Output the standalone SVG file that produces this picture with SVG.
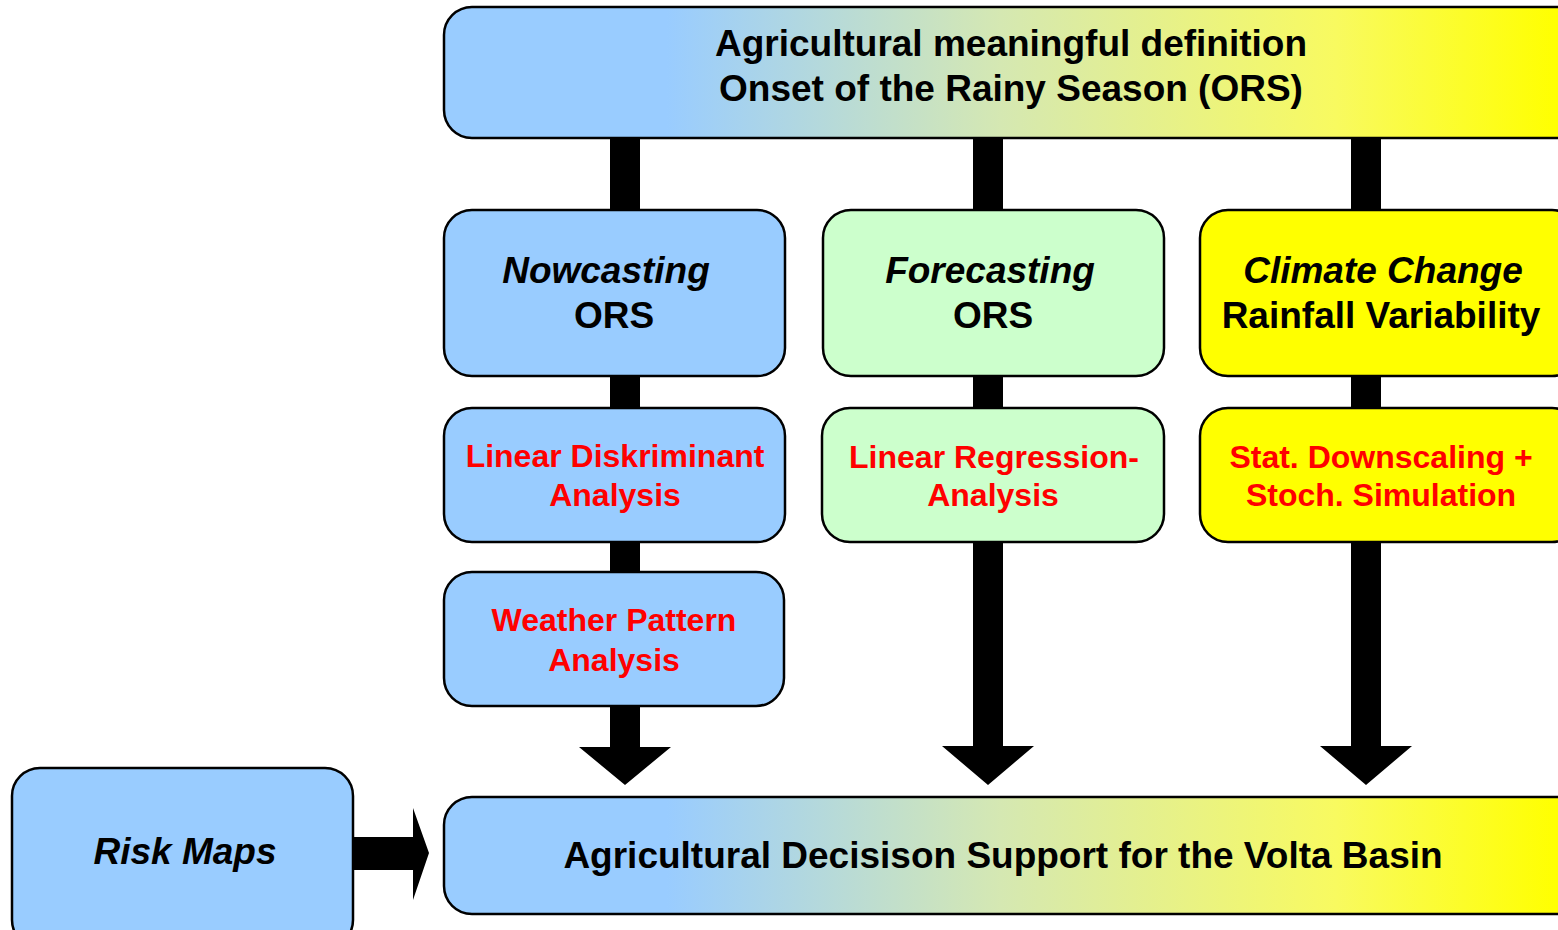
<svg xmlns="http://www.w3.org/2000/svg" width="1558" height="930" viewBox="0 0 1558 930">
<defs>
<linearGradient id="g" x1="444" y1="0" x2="1558" y2="0" gradientUnits="userSpaceOnUse">
<stop offset="0" stop-color="#99CCFF"/>
<stop offset="0.2" stop-color="#99CCFF"/>
<stop offset="0.5" stop-color="#D5E8B2"/>
<stop offset="0.8" stop-color="#F8FA60"/>
<stop offset="1" stop-color="#FFFF00"/>
</linearGradient>
<style>
.box{stroke:#000;stroke-width:2.5}
.blue{fill:#99CCFF}
.green{fill:#CCFFCC}
.yellow{fill:#FFFF00}
.grad{fill:url(#g)}
text{font-family:"Liberation Sans",Arial,sans-serif;font-weight:bold;text-anchor:middle}
.t{font-size:37px;fill:#000}
.i{font-style:italic}
.r{font-size:32px;fill:#FF0000}
.bar{fill:#000}
</style>
</defs>
<g id="connectors">
<rect class="bar" x="610" y="136" width="30" height="76"/>
<rect class="bar" x="973" y="136" width="30" height="76"/>
<rect class="bar" x="1351" y="136" width="30" height="76"/>
<rect class="bar" x="610" y="374" width="30" height="36"/>
<rect class="bar" x="973" y="374" width="30" height="36"/>
<rect class="bar" x="1351" y="374" width="30" height="36"/>
<rect class="bar" x="610" y="540" width="30" height="34"/>
<polygon class="bar" points="610,704 640,704 640,747 671,747 625,785 579,747 610,747"/>
<polygon class="bar" points="973,540 1003,540 1003,746 1034,746 988,785 942,746 973,746"/>
<polygon class="bar" points="1351,540 1381,540 1381,746 1412,746 1366,785 1320,746 1351,746"/>
<polygon class="bar" points="352,837 413,837 413,808 429,853 413,900 413,870 352,870"/>
</g>
<g id="top">
<rect class="box grad" x="444" y="7" width="1140" height="131" rx="28"/>
<text class="t" x="1011" y="56">Agricultural meaningful definition</text>
<text class="t" x="1011" y="101">Onset of the Rainy Season (ORS)</text>
</g>
<g id="nowcasting">
<rect class="box blue" x="444" y="210" width="341" height="166" rx="28"/>
<text class="t i" x="606" y="283">Nowcasting</text>
<text class="t" x="614" y="328">ORS</text>
</g>
<g id="forecasting">
<rect class="box green" x="823" y="210" width="341" height="166" rx="28"/>
<text class="t i" x="990" y="283">Forecasting</text>
<text class="t" x="993" y="328">ORS</text>
</g>
<g id="climate">
<rect class="box yellow" x="1200" y="210" width="380" height="166" rx="28"/>
<text class="t i" x="1383" y="283">Climate Change</text>
<text class="t" x="1381" y="328">Rainfall Variability</text>
</g>
<g id="lda">
<rect class="box blue" x="444" y="408" width="341" height="134" rx="28"/>
<text class="r" x="615" y="467">Linear Diskriminant</text>
<text class="r" x="615" y="506">Analysis</text>
</g>
<g id="lra">
<rect class="box green" x="822" y="408" width="342" height="134" rx="28"/>
<text class="r" x="994" y="468">Linear Regression-</text>
<text class="r" x="993" y="506">Analysis</text>
</g>
<g id="stat">
<rect class="box yellow" x="1200" y="408" width="380" height="134" rx="28"/>
<text class="r" x="1381" y="468">Stat. Downscaling +</text>
<text class="r" x="1381" y="506">Stoch. Simulation</text>
</g>
<g id="weather">
<rect class="box blue" x="444" y="572" width="340" height="134" rx="28"/>
<text class="r" x="614" y="631">Weather Pattern</text>
<text class="r" x="614" y="671">Analysis</text>
</g>
<g id="risk">
<rect class="box blue" x="12" y="768" width="341" height="180" rx="28"/>
<text class="t i" x="185" y="864">Risk Maps</text>
</g>
<g id="bottom">
<rect class="box grad" x="444" y="797" width="1140" height="117" rx="28"/>
<text class="t" x="1003" y="868">Agricultural Decisison Support for the Volta Basin</text>
</g>
</svg>
